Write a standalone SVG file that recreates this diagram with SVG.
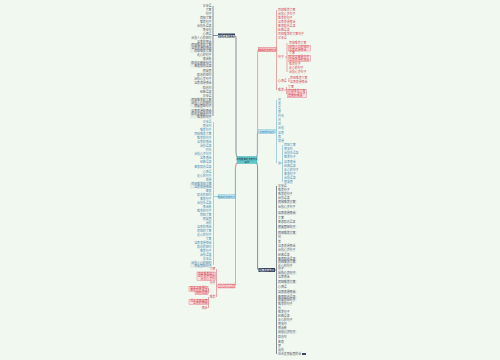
<svg xmlns="http://www.w3.org/2000/svg" width="500" height="360" viewBox="0 0 500 360">
<style>
text{font-family:"Noto Sans CJK SC","Noto Sans",sans-serif;font-size:2.9px;dominant-baseline:central}
.e{text-anchor:end}
.tn{fill:#5a606b}
.tb{fill:#4d8db2}
.tr{fill:#d44a55}
.w{fill:#ffffff}
.ln{stroke:#3b4a5e;fill:none;stroke-width:0.6}
.lr{stroke:#e26f79;fill:none;stroke-width:0.6}
.lb{stroke:#72b3d3;fill:none;stroke-width:0.6}
.bx{fill:#e4eae6}
.pb{fill:#fbe1e2;stroke:#e36f79;stroke-width:0.4}
</style>
<rect width="500" height="360" fill="#f1f8ef"/>

<g id="connectors">
<path class="ln" d="M238,157.5 Q236,157.5 236,150 V38 Q236,35.5 235,35.5"/>
<path class="lb" d="M238,162.5 Q235.3,162.5 235.3,170 V194 Q235.3,196.5 234.5,196.5"/>
<path class="lr" d="M238,162.5 Q235.5,162.5 235.5,170 V283 Q235.5,286 234.5,286"/>
<path class="lb" d="M256,157.5 Q257.3,157.5 257.3,150 V134 Q257.3,131.5 258.5,131.5"/>
<path class="lr" d="M256,157.5 Q257.6,157.5 257.6,150 V53 Q257.6,49.5 258.5,49.5"/>
<path class="ln" d="M256,162.5 Q257.6,162.5 257.6,170 V267 Q257.6,270 258.5,270"/>
<path class="ln" d="M213,6 V116 M213,35.5 H218"/>
<path class="lb" d="M213.5,122 V265 M213.5,196.5 H218"/>
<path class="lr" d="M216.5,269 V297 M216.5,286 H218 M208.5,288 V293 M208.5,290 H209 M208.5,297 V308"/>
<path class="lr" d="M276.5,10 V90 M276.5,49.5 H258 M287,43 V72 M285,57 H287 M289,78 V82 M288,81 H289 M286.5,87 V94 M284,90 H286.5"/>
<path class="lb" d="M276.5,100 V163 M282.5,145 V182 M281,163 H282.5"/>
<path class="ln" d="M276.5,186 V354 M275,270 H276.5"/>
</g>

<g id="center">
<rect x="237" y="156.5" width="20" height="7" fill="#5ec7cb" stroke="#3ea8ad" stroke-width="0.4"/>
<text x="247" y="158.8" style="font-size:2.4px;text-anchor:middle" fill="#1f3a48">简短唯美的文案句子</text>
<text x="247" y="161.6" style="font-size:2.4px;text-anchor:middle" fill="#1f3a48">摘抄</text>
</g>

<g id="node-top-left">
<rect x="218" y="33.5" width="17" height="4" fill="#2f3e56"/>
<text x="226.5" y="35.5" class="w" style="font-size:2.5px;text-anchor:middle">简短唯美的文案</text>
</g>
<g id="items-top-left" class="tn">
<text class="e" x="211.5" y="6">早安语</text>
<text class="e" x="211.5" y="10">文案</text>
<text class="e" x="211.5" y="14">句子</text>
<text class="e" x="211.5" y="18">简短文案</text>
<text class="e" x="211.5" y="22">唯美句子</text>
<text class="e" x="211.5" y="26">治愈系语录</text>
<text class="e" x="211.5" y="30">晚安句</text>
<text class="e" x="211.5" y="34">心情语</text>
<text class="e" x="211.5" y="38">治愈人心的短句</text>
<text class="e" x="211.5" y="42">温柔的情话</text>
<rect class="bx" x="190" y="43.5" width="22" height="9"/>
<text class="e" x="211.5" y="45">简短唯美的文案</text>
<text class="e" x="211.5" y="48">温柔浪漫的情话</text>
<text class="e" x="211.5" y="51">简短唯美文案</text>
<text class="e" x="211.5" y="55">走心的句子</text>
<text class="e" x="211.5" y="59">情话集</text>
<rect class="bx" x="190" y="61.5" width="22" height="6"/>
<text class="e" x="211.5" y="63">励志正能量句子</text>
<text class="e" x="211.5" y="66">青春励志语录</text>
<text class="e" x="211.5" y="71">朋友圈</text>
<text class="e" x="211.5" y="75">励志的短句</text>
<text class="e" x="211.5" y="79">治愈心灵句子</text>
<text class="e" x="211.5" y="83">温柔浪漫情话</text>
<text class="e" x="211.5" y="88">励志句</text>
<text class="e" x="211.5" y="92">经典语录</text>
<text class="e" x="211.5" y="96">早安语</text>
<rect class="bx" x="190" y="98.5" width="22" height="9"/>
<text class="e" x="211.5" y="100">简短唯美的文案</text>
<text class="e" x="211.5" y="103">治愈人心的短句</text>
<text class="e" x="211.5" y="106">朋友圈短句子</text>
<rect class="bx" x="190" y="109.5" width="22" height="9"/>
<text class="e" x="211.5" y="111">温柔浪漫的情话</text>
<text class="e" x="211.5" y="114">励志正能量句子</text>
<text class="e" x="211.5" y="117">唯美的句子</text>
</g>

<g id="node-left-blue">
<rect x="218" y="194.5" width="17" height="4" fill="#b9e3ee" stroke="#6fb2cf" stroke-width="0.3"/>
<text x="226.5" y="196.5" class="tb" style="font-size:2.5px;text-anchor:middle">唯美的文案句子</text>
</g>
<g id="items-left-blue" class="tb">
<text class="e" x="211.5" y="122">早安语</text>
<text class="e" x="211.5" y="126">晚安句</text>
<text class="e" x="211.5" y="130">唯美句子</text>
<text class="e" x="211.5" y="134">简短唯美文案</text>
<text class="e" x="211.5" y="138">唯美的句子</text>
<text class="e" x="211.5" y="142">温柔的情话</text>
<text class="e" x="211.5" y="146">治愈语录</text>
<text class="e" x="211.5" y="150">时光</text>
<text class="e" x="211.5" y="154">治愈心灵句子</text>
<text class="e" x="211.5" y="158">温柔情话</text>
<text class="e" x="211.5" y="162">经典语录</text>
<text class="e" x="211.5" y="167">青春励志语录</text>
<text class="e" x="211.5" y="172">心情语</text>
<text class="e" x="211.5" y="176">走心的句子</text>
<text class="e" x="211.5" y="180">浪漫</text>
<rect class="bx" x="190" y="182.5" width="22" height="6"/>
<text class="e" x="211.5" y="184">简短唯美的文案</text>
<text class="e" x="211.5" y="187">温柔浪漫情话</text>
<text class="e" x="211.5" y="191">青春</text>
<text class="e" x="211.5" y="195">励志的短句</text>
<text class="e" x="211.5" y="199">青春句子</text>
<text class="e" x="211.5" y="203">治愈系语录</text>
<text class="e" x="211.5" y="207">情话集</text>
<text class="e" x="211.5" y="211">唯美的句子</text>
<text class="e" x="211.5" y="215">简短文案</text>
<text class="e" x="211.5" y="219">朋友圈</text>
<text class="e" x="211.5" y="223">治愈</text>
<text class="e" x="211.5" y="227">温柔的情话</text>
<text class="e" x="211.5" y="231">简短的文案</text>
<text class="e" x="211.5" y="235">走心的句子</text>
<text class="e" x="211.5" y="239">文案</text>
<text class="e" x="211.5" y="243">温柔浪漫情话</text>
<text class="e" x="211.5" y="247">励志的短句</text>
<text class="e" x="211.5" y="251">唯美句子</text>
<text class="e" x="211.5" y="255">治愈语录</text>
<text class="e" x="211.5" y="259">早安语</text>
<rect class="bx" x="190" y="261.5" width="22" height="6"/>
<text class="e" x="211.5" y="263">治愈人心的短句</text>
<text class="e" x="211.5" y="266">朋友圈短句子</text>
</g>

<g id="node-bottom-left">
<rect x="218" y="284" width="17" height="4" fill="#ee8a92" stroke="#d9505b" stroke-width="0.3"/>
<text x="226.5" y="286" class="w" style="font-size:2.5px;text-anchor:middle">简短的文案句子</text>
</g>
<g id="items-bottom-left" class="tr">
<text class="e" x="215.5" y="269">文案</text>
<rect class="pb" x="197" y="272" width="18.5" height="8.5"/>
<text class="e" x="215" y="273.5">简短唯美的文</text>
<text class="e" x="215" y="276.3">温柔浪漫情话</text>
<text class="e" x="215" y="279.1">治愈心灵句</text>
<text class="e" x="215.5" y="283">句子</text>
<rect class="pb" x="189" y="286.5" width="19" height="5"/>
<text class="e" x="207.5" y="287.8">励志正能量句</text>
<text class="e" x="207.5" y="290.3">青春励志语录</text>
<rect class="pb" x="195" y="292" width="13" height="2.8"/>
<text class="e" x="207.5" y="293.4">治愈语录</text>
<text class="e" x="215.5" y="297">唯美</text>
<rect class="pb" x="189" y="299.5" width="19" height="5"/>
<text class="e" x="207.5" y="300.8">适合发朋友圈</text>
<text class="e" x="207.5" y="303.3">温柔的情话</text>
<text class="e" x="207.5" y="308">情话</text>
</g>

<g id="node-top-right">
<rect x="258.5" y="47.5" width="17.5" height="4" fill="#f6c2c4" stroke="#df5a64" stroke-width="0.4"/>
<text x="267.2" y="49.5" class="tr" style="font-size:2.5px;text-anchor:middle">唯美的文案句子</text>
</g>
<g id="items-top-right" class="tr">
<text x="278" y="10">简短唯美文案</text>
<text x="278" y="14">治愈心灵句子</text>
<text x="278" y="18">唯美的句子</text>
<text x="278" y="22">温柔浪漫情话</text>
<text x="278" y="26">青春励志语录</text>
<text x="278" y="30">经典语录</text>
<text x="278" y="34">简短唯美的文案句子</text>
<text x="278" y="38">早安语</text>
<text x="278" y="57">句子</text>
<text x="289" y="43">简短唯美文案</text>
<rect class="pb" x="288.5" y="45.5" width="22" height="5.5"/>
<text x="289" y="47">治愈人心的短句</text>
<text x="289" y="49.6">温柔浪漫情话</text>
<text x="289" y="53">文案</text>
<rect class="pb" x="288.5" y="55.5" width="22" height="6"/>
<text x="289" y="57">励志正能量句子</text>
<text x="289" y="60">温柔浪漫的情话</text>
<text x="289" y="64">唯美句子</text>
<text x="289" y="68">走心的句子</text>
<text x="289" y="72">治愈心灵句子</text>
<text x="278" y="81">心情语</text>
<text x="290" y="78">简短唯美文案</text>
<text x="290" y="82">温柔浪漫情话</text>
<text x="278" y="90">唯美</text>
<text x="288" y="87">文案</text>
<rect class="pb" x="287.5" y="89.3" width="19" height="8.5"/>
<text x="288" y="90.8">简短唯美文案</text>
<text x="288" y="93.6">治愈心灵句子</text>
<text x="288" y="96.4">温柔的情话</text>
</g>

<g id="node-right-blue">
<rect x="258.5" y="129.5" width="17" height="4" fill="#b9e3ee" stroke="#6fb2cf" stroke-width="0.3"/>
<text x="267" y="131.5" class="tb" style="font-size:2.5px;text-anchor:middle">文案短句摘抄</text>
</g>
<g id="items-right-blue" class="tb">
<text x="278" y="100">句</text>
<text x="278" y="104">美</text>
<text x="278" y="108">爱</text>
<text x="278" y="112">梦</text>
<text x="278" y="116">时光</text>
<text x="278" y="120">光</text>
<text x="278" y="124">风</text>
<text x="278" y="128">治愈</text>
<text x="278" y="133">温柔</text>
<text x="278" y="137">雨</text>
<text x="278" y="141">浪漫</text>
<text x="278" y="163">云</text>
<text x="284" y="145">简短文案</text>
<text x="284" y="149">晚安句</text>
<text x="284" y="153">治愈系语录</text>
<text x="284" y="157">唯美句子</text>
<text x="284" y="162">温柔情话</text>
<text x="284" y="166">经典语录</text>
<text x="284" y="170">走心的句子</text>
<text x="284" y="174">青春句子</text>
<text x="284" y="178">治愈语录</text>
<text x="284" y="182">朋友圈</text>
</g>

<g id="node-bottom-right">
<rect x="258.5" y="268" width="16.5" height="4" fill="#2f3e56"/>
<text x="266.7" y="270" class="w" style="font-size:2.5px;text-anchor:middle">经典文案句子</text>
</g>
<g id="items-bottom-right" class="tn">
<text x="278" y="186">早安语</text>
<text x="278" y="190">唯美句子</text>
<text x="278" y="194">唯美的句子</text>
<text x="278" y="198">治愈语录</text>
<rect class="bx" x="277.5" y="200" width="19" height="4"/>
<text x="278" y="202">简短唯美文案</text>
<text x="278" y="207">治愈心灵句子</text>
<rect class="bx" x="277.5" y="211" width="19" height="4"/>
<text x="278" y="213">温柔浪漫情话</text>
<text x="278" y="218">文案</text>
<text x="278" y="222">青春励志语录</text>
<rect class="bx" x="277.5" y="225" width="19" height="4"/>
<text x="278" y="227">朋友圈短句子</text>
<rect class="bx" x="277.5" y="231" width="19" height="4"/>
<text x="278" y="233">简短唯美文案</text>
<text x="278" y="237">句</text>
<text x="278" y="242">美</text>
<text x="278" y="246">温柔浪漫情话</text>
<text x="278" y="250">治愈心灵句子</text>
<text x="278" y="255">经典语录</text>
<rect class="bx" x="277.5" y="257.5" width="19" height="6"/>
<text x="278" y="259">青春励志语录</text>
<text x="278" y="262">简短唯美文案</text>
<text x="278" y="265.5">走心的句子</text>
<text x="278" y="269">句子</text>
<rect class="bx" x="277.5" y="271" width="19" height="4"/>
<text x="278" y="273">治愈心灵句子</text>
<text x="278" y="277">温柔情话</text>
<rect class="bx" x="277.5" y="280" width="19" height="4"/>
<text x="278" y="282">简短唯美文案</text>
<text x="278" y="287">心情语</text>
<rect class="bx" x="277.5" y="290" width="19" height="4"/>
<text x="278" y="292">温柔浪漫情话</text>
<rect class="bx" x="277.5" y="295.5" width="19" height="6"/>
<text x="278" y="297">青春励志语录</text>
<text x="278" y="300">朋友圈短句子</text>
<text x="278" y="304">唯美的句子</text>
<text x="278" y="308">光</text>
<text x="278" y="312">唯美句子</text>
<text x="278" y="316">经典语录</text>
<text x="278" y="320">走心的句子</text>
<text x="278" y="324">晚安句</text>
<text x="278" y="328">情话集</text>
<rect class="bx" x="277.5" y="330" width="19" height="4"/>
<text x="278" y="332">治愈心灵句子</text>
<text x="278" y="337">励志句</text>
<text x="278" y="342">青春</text>
<text x="278" y="346">梦</text>
<text x="278" y="350">治愈</text>
<text x="278" y="354">适合发朋友圈的话</text>
<rect x="302" y="353" width="4" height="2" fill="#3b4a5e"/>
</g>
</svg>
